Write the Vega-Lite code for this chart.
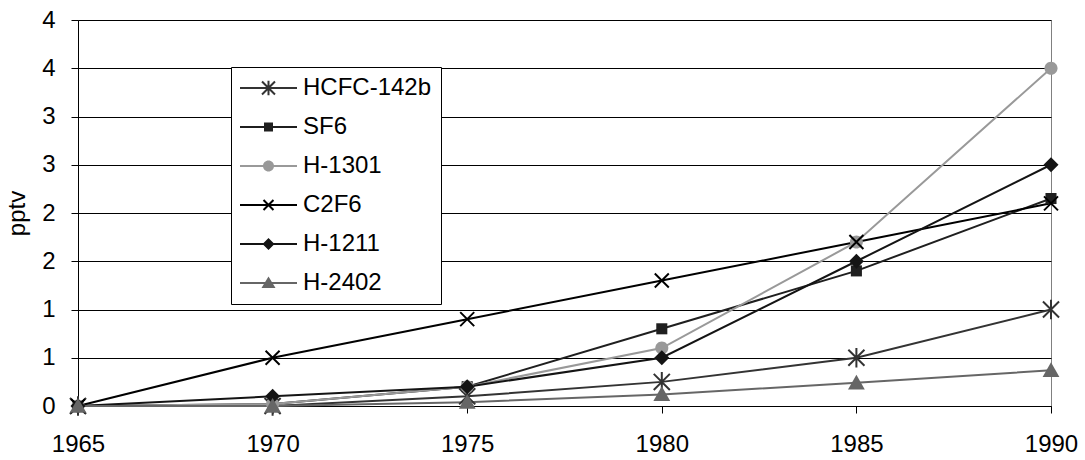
{
  "$schema": "https://vega.github.io/schema/vega-lite/v6.json",
  "width": 973,
  "height": 386,
  "autosize": {"type": "none"},
  "padding": {"left": 78, "top": 20, "right": 34, "bottom": 54},
  "background": "white",
  "config": {
    "font": "Liberation Sans",
    "view": {"stroke": "#808080", "strokeWidth": 1},
    "axis": {
      "labelFont": "Liberation Sans",
      "labelFontSize": 24,
      "labelColor": "#000000",
      "titleFont": "Liberation Sans",
      "titleFontSize": 24,
      "titleFontWeight": "normal",
      "titleColor": "#000000",
      "domainColor": "#000000",
      "tickColor": "#000000",
      "tickSize": 7,
      "gridColor": "#000000",
      "gridWidth": 1,
      "gridOpacity": 1,
      "labelFlush": false
    }
  },
  "data": {
    "values": [
      {"series": "HCFC-142b", "year": 1965, "pptv": 0},
      {"series": "HCFC-142b", "year": 1970, "pptv": 0},
      {"series": "HCFC-142b", "year": 1975, "pptv": 0.1},
      {"series": "HCFC-142b", "year": 1980, "pptv": 0.25},
      {"series": "HCFC-142b", "year": 1985, "pptv": 0.5},
      {"series": "HCFC-142b", "year": 1990, "pptv": 1.0},
      {"series": "SF6", "year": 1965, "pptv": 0},
      {"series": "SF6", "year": 1970, "pptv": 0.02},
      {"series": "SF6", "year": 1975, "pptv": 0.2},
      {"series": "SF6", "year": 1980, "pptv": 0.8},
      {"series": "SF6", "year": 1985, "pptv": 1.4},
      {"series": "SF6", "year": 1990, "pptv": 2.15},
      {"series": "H-1301", "year": 1965, "pptv": 0},
      {"series": "H-1301", "year": 1970, "pptv": 0.02},
      {"series": "H-1301", "year": 1975, "pptv": 0.2},
      {"series": "H-1301", "year": 1980, "pptv": 0.6},
      {"series": "H-1301", "year": 1985, "pptv": 1.7},
      {"series": "H-1301", "year": 1990, "pptv": 3.5},
      {"series": "C2F6", "year": 1965, "pptv": 0},
      {"series": "C2F6", "year": 1970, "pptv": 0.5},
      {"series": "C2F6", "year": 1975, "pptv": 0.9},
      {"series": "C2F6", "year": 1980, "pptv": 1.3},
      {"series": "C2F6", "year": 1985, "pptv": 1.7},
      {"series": "C2F6", "year": 1990, "pptv": 2.1},
      {"series": "H-1211", "year": 1965, "pptv": 0},
      {"series": "H-1211", "year": 1970, "pptv": 0.1},
      {"series": "H-1211", "year": 1975, "pptv": 0.2},
      {"series": "H-1211", "year": 1980, "pptv": 0.5},
      {"series": "H-1211", "year": 1985, "pptv": 1.5},
      {"series": "H-1211", "year": 1990, "pptv": 2.5},
      {"series": "H-2402", "year": 1965, "pptv": 0},
      {"series": "H-2402", "year": 1970, "pptv": 0},
      {"series": "H-2402", "year": 1975, "pptv": 0.04},
      {"series": "H-2402", "year": 1980, "pptv": 0.12},
      {"series": "H-2402", "year": 1985, "pptv": 0.24},
      {"series": "H-2402", "year": 1990, "pptv": 0.37}
    ]
  },
  "encoding": {
    "x": {
      "field": "year",
      "type": "quantitative",
      "scale": {"domain": [1965, 1990], "nice": false, "zero": false},
      "axis": {
        "values": [1965, 1970, 1975, 1980, 1985, 1990],
        "format": "d",
        "title": null,
        "grid": false,
        "labelPadding": 19
      }
    },
    "y": {
      "field": "pptv",
      "type": "quantitative",
      "scale": {"domain": [0, 4], "nice": false},
      "axis": {
        "values": [0, 0.5, 1, 1.5, 2, 2.5, 3, 3.5, 4],
        "labelExpr": "'' + round(datum.value)",
        "title": "pptv",
        "grid": true,
        "labelPadding": 16,
        "titlePadding": 12
      }
    }
  },
  "layer": [
    {
      "mark": {"type": "line", "strokeWidth": 2},
      "encoding": {
        "color": {
          "field": "series",
          "type": "nominal",
          "scale": {
            "domain": ["HCFC-142b", "SF6", "H-1301", "C2F6", "H-1211", "H-2402"],
            "range": ["#333333", "#1f1f1f", "#999999", "#000000", "#141414", "#666666"]
          }
        }
      }
    },
    {
      "mark": {"type": "point", "filled": true, "opacity": 1, "size": 196},
      "encoding": {
        "color": {
          "field": "series",
          "type": "nominal",
          "scale": {
            "domain": ["HCFC-142b", "SF6", "H-1301", "C2F6", "H-1211", "H-2402"],
            "range": ["#333333", "#1f1f1f", "#999999", "#000000", "#141414", "#666666"]
          },
          "legend": {
            "title": null,
            "orient": "none",
            "legendX": 153,
            "legendY": 47,
            "direction": "vertical",
            "padding": 9,
            "rowPadding": 15,
            "fillColor": "white",
            "strokeColor": "black",
            "labelFont": "Liberation Sans",
            "labelFontSize": 24,
            "labelColor": "black",
            "labelOffset": 39,
            "symbolSize": 144,
            "symbolStrokeWidth": 0,
            "symbolOpacity": 1,
            "encode": {
              "symbols": {
                "update": {
                  "shape": {"signal": "datum.value === 'HCFC-142b' ? 'M-2,-0.17H7.5V0.17H-2ZM1.788,-1.198L3.948,0.962L3.712,1.198L1.552,-0.962ZM1.552,0.962L3.712,-1.198L3.948,-0.962L1.788,1.198ZM2.917,-1.2L2.917,1.2L2.583,1.2L2.583,-1.2Z' : datum.value === 'SF6' ? 'M-2,-0.17H7.5V0.17H-2ZM2,-0.75H3.5V0.75H2Z' : datum.value === 'H-1301' ? 'M-2,-0.17H7.5V0.17H-2ZM1.83,0A0.92,0.92 0 1,1 3.67,0A0.92,0.92 0 1,1 1.83,0Z' : datum.value === 'C2F6' ? 'M-2,-0.17H7.5V0.17H-2ZM2.038,-0.948L3.698,0.712L3.462,0.948L1.802,-0.712ZM1.802,0.712L3.462,-0.948L3.698,-0.712L2.038,0.948Z' : datum.value === 'H-1211' ? 'M-2,-0.17H7.5V0.17H-2ZM2.75,-1L3.75,0L2.75,1L1.75,0Z' : 'M-2,-0.17H7.5V0.17H-2ZM2.75,-1.1L3.92,0.85H1.58Z'"},
                  "size": {"value": 144},
                  "strokeWidth": {"value": 0}
                }
              }
            }
          }
        },
        "shape": {
          "field": "series",
          "type": "nominal",
          "scale": {
            "domain": ["C2F6", "H-1211", "H-1301", "H-2402", "HCFC-142b", "SF6"],
            "range": [
              "M-0.9,-1.1L1.1,0.9L0.9,1.1L-1.1,-0.9ZM-1.1,0.9L0.9,-1.1L1.1,-0.9L-0.9,1.1Z",
              "M0,-1.07L1.07,0L0,1.07L-1.07,0Z",
              "M-0.93,0A0.93,0.93 0 1,1 0.93,0A0.93,0.93 0 1,1 -0.93,0Z",
              "M0,-1.15L1.2,0.95H-1.2Z",
              "M-1.05,-1.25L1.25,1.05L1.05,1.25L-1.25,-1.05ZM-1.25,1.05L1.05,-1.25L1.25,-1.05L-1.05,1.25ZM0.143,-1.4L0.143,1.4L-0.143,1.4L-0.143,-1.4Z",
              "M-0.79,-0.79H0.79V0.79H-0.79Z"
            ]
          },
          "legend": null
        }
      }
    }
  ]
}
